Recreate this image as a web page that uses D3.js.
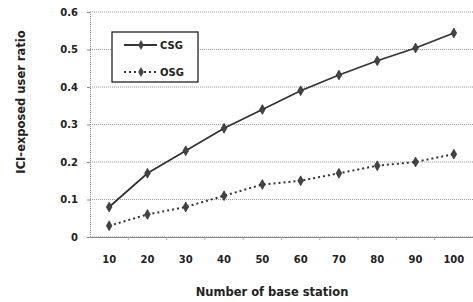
<!DOCTYPE html>
<html>
<head>
<meta charset="utf-8">
<script src="https://cdn.jsdelivr.net/npm/d3@7"></script>
<style>
  body { margin: 0; background: #fff; }
  text { font-family: "DejaVu Sans", Verdana, sans-serif; font-weight: bold; fill: #222; }
</style>
</head>
<body>
<svg id="chart" width="473" height="302"></svg>
<script>
const stations = [10, 20, 30, 40, 50, 60, 70, 80, 90, 100];
const csg = [0.08, 0.17, 0.23, 0.29, 0.34, 0.39, 0.432, 0.47, 0.504, 0.544];
const osg = [0.03, 0.06, 0.08, 0.11, 0.14, 0.15, 0.17, 0.19, 0.20, 0.221];
const yTicks = [0, 0.1, 0.2, 0.3, 0.4, 0.5, 0.6];

const svg = d3.select("#chart"),
      margin = {top: 12, right: 0, bottom: 65, left: 90},
      width = +svg.attr("width") - margin.left - margin.right,
      height = +svg.attr("height") - margin.top - margin.bottom,
      g = svg.append("g").attr("transform", `translate(${margin.left},${margin.top})`);

const x = d3.scaleBand().domain(stations).range([0, width]);
const y = d3.scaleLinear().domain([0, 0.6]).range([height, 0]);
const cx = d => x(d) + x.bandwidth() / 2;

// gridlines
g.append("g")
  .selectAll("line")
  .data(yTicks)
  .join("line")
    .attr("x1", 0).attr("x2", width)
    .attr("y1", d => y(d)).attr("y2", d => y(d))
    .attr("stroke", "#999")
    .attr("stroke-dasharray", "1,1");

// y axis
const yAxis = g.append("g")
  .call(d3.axisLeft(y).tickValues(yTicks).tickSize(3).tickPadding(9)
    .tickFormat(d => d === 0 ? "0" : d3.format(".1f")(d)));
yAxis.select(".domain").attr("stroke", "#888").attr("stroke-dasharray", "1,1");
yAxis.selectAll(".tick line").attr("stroke", "#888");
yAxis.selectAll("text").attr("font-size", 10);

// x axis
const xAxis = g.append("g")
  .attr("transform", `translate(0,${height})`)
  .call(d3.axisBottom(x).tickSize(0).tickPadding(19));
xAxis.select(".domain").attr("stroke", "#888");
xAxis.selectAll("text").attr("font-size", 10);
g.append("g")
  .selectAll("line")
  .data(stations.slice(1))
  .join("line")
    .attr("x1", d => x(d)).attr("x2", d => x(d))
    .attr("y1", height).attr("y2", height + 3)
    .attr("stroke", "#aaa");

// axis titles
svg.append("text")
  .attr("x", 272)
  .attr("y", 296)
  .attr("text-anchor", "middle")
  .attr("font-size", 11.5)
  .text("Number of base station");

svg.append("text")
  .attr("transform", "translate(25,102) rotate(-90)")
  .attr("text-anchor", "middle")
  .attr("font-size", 11.5)
  .text("ICI-exposed user ratio");

// series
const series = [
  {name: "CSG", values: csg, dash: null},
  {name: "OSG", values: osg, dash: "2,3"}
];
const line = d3.line().x((d, i) => cx(stations[i])).y(d => y(d));
const diamond = d3.symbol().type(d3.symbolDiamond).size(28);

series.forEach(s => {
  g.append("path")
    .datum(s.values)
    .attr("d", line)
    .attr("fill", "none")
    .attr("stroke", "#333")
    .attr("stroke-width", s.dash ? 2 : 1.8)
    .attr("stroke-dasharray", s.dash);
  g.append("g")
    .selectAll("path")
    .data(s.values)
    .join("path")
      .attr("transform", (d, i) => `translate(${cx(stations[i])},${y(d)})`)
      .attr("d", diamond)
      .attr("fill", "#444")
      .attr("stroke", "#222")
      .attr("stroke-width", 0.6);
});

// legend
const legend = svg.append("g").attr("transform", "translate(112,32)");
legend.append("rect")
  .attr("width", 86).attr("height", 50)
  .attr("fill", "#fff").attr("stroke", "#222").attr("stroke-width", 1.3);
series.forEach((s, i) => {
  const ly = 13 + i * 27;
  legend.append("line")
    .attr("x1", 12).attr("x2", 45).attr("y1", ly).attr("y2", ly)
    .attr("stroke", "#333").attr("stroke-width", 2)
    .attr("stroke-dasharray", s.dash);
  legend.append("path")
    .attr("transform", `translate(29,${ly})`)
    .attr("d", diamond)
    .attr("fill", "#444");
  legend.append("text")
    .attr("x", 48).attr("y", ly + 4)
    .attr("font-size", 10)
    .text(s.name);
});
</script>
</body>
</html>
